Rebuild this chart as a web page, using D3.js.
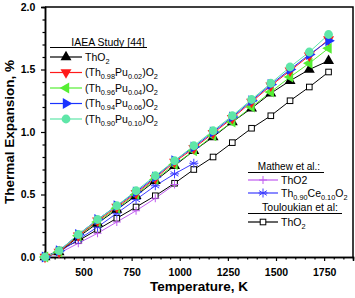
<!DOCTYPE html>
<html>
<head>
<meta charset="utf-8">
<script src="https://cdn.jsdelivr.net/npm/d3@7"></script>
<style>
  body { margin: 0; background: #fff; }
  text { font-family: "Liberation Sans", Arial, sans-serif; }
</style>
</head>
<body>
<div class="container"></div>
<script>
// temperatures (K)
const temps = [300, 373, 473, 573, 673, 773, 873, 973, 1073, 1173, 1273, 1373, 1473, 1573, 1673, 1773];
// IAEA study series
const tho2Iaea = [0, 0.04, 0.16, 0.27, 0.38, 0.49, 0.61, 0.73, 0.85, 0.96, 1.08, 1.19, 1.31, 1.41, 1.50, 1.57];
const pu02 = [0, 0.04, 0.17, 0.29, 0.40, 0.51, 0.63, 0.76, 0.87, 0.99, 1.11, 1.24, 1.37, 1.49, 1.61, 1.74];
const pu04 = [0, 0.04, 0.17, 0.28, 0.39, 0.50, 0.62, 0.74, 0.85, 0.97, 1.08, 1.20, 1.32, 1.44, 1.55, 1.67];
const pu06 = [0, 0.05, 0.18, 0.30, 0.41, 0.52, 0.64, 0.77, 0.88, 1.00, 1.12, 1.25, 1.38, 1.50, 1.62, 1.73];
const pu10 = [0, 0.05, 0.18, 0.30, 0.41, 0.53, 0.65, 0.77, 0.89, 1.01, 1.13, 1.26, 1.39, 1.52, 1.64, 1.78];
// Mathew et al.
const mathewTemps = [300, 373, 473, 573, 673, 773, 873, 973];
const mathewTho2 = [0, 0.03, 0.11, 0.19, 0.28, 0.37, 0.47, 0.58];
const ceTemps = [300, 373, 473, 573, 673, 773, 873, 973, 1073];
const ce10 = [0, 0.04, 0.14, 0.24, 0.35, 0.46, 0.57, 0.665, 0.75];
// Touloukian et al.
const toulTho2 = [0, 0.055, 0.13, 0.22, 0.31, 0.40, 0.49, 0.59, 0.70, 0.80, 0.915, 1.03, 1.13, 1.25, 1.36, 1.48];

const xTicks = [500, 750, 1000, 1250, 1500, 1750];
const yTicks = [0, 0.5, 1.0, 1.5, 2.0];

const W = 355, H = 298;
const margin = {top: 7, right: 2, bottom: 41, left: 45};

const svg = d3.select(".container").append("svg")
  .attr("width", W).attr("height", H);

const x = d3.scaleLinear().domain([300, 1900]).range([margin.left, W - margin.right]);
const y = d3.scaleLinear().domain([0, 2]).range([H - margin.bottom, margin.top]);

// axes
const xAxis = d3.axisBottom(x).tickValues(xTicks).tickFormat(d3.format("d")).tickSize(4);
const xMinor = d3.axisBottom(x).tickValues(d3.range(350, 1900, 50).filter(v => v % 250 !== 0)).tickFormat("").tickSize(2.5);
const yAxis = d3.axisLeft(y).tickValues(yTicks).tickFormat(d3.format(".1f")).tickSize(4);
const yMinor = d3.axisLeft(y).tickValues(d3.range(0.1, 2.0, 0.1).filter(v => Math.abs(v * 2 - Math.round(v * 2)) > 0.01)).tickFormat("").tickSize(2.5);

function styleAxis(g) {
  g.select(".domain").attr("stroke-width", 1.5);
  g.selectAll(".tick line").attr("stroke-width", 1.2);
  g.selectAll("text").attr("font-size", 10.5).attr("font-weight", "bold")
    .attr("font-family", "Liberation Sans, Arial, sans-serif");
}

svg.append("g").attr("transform", `translate(0,${y(0)})`).call(xMinor).call(styleAxis);
svg.append("g").attr("transform", `translate(0,${y(0)})`).call(xAxis).call(styleAxis)
  .selectAll("text").attr("dy", "1.1em");
svg.append("g").attr("transform", `translate(${x(300)},0)`).call(yMinor).call(styleAxis);
svg.append("g").attr("transform", `translate(${x(300)},0)`).call(yAxis).call(styleAxis)
  .selectAll("text").attr("dx", "-0.25em");

// frame top & right
svg.append("path")
  .attr("d", `M${x(300)},${y(2)}H${x(1900)}V${y(0)}`)
  .attr("fill", "none").attr("stroke", "#000").attr("stroke-width", 1.5);

// axis titles
svg.append("text").attr("x", (x(300) + x(1900)) / 2).attr("y", 291)
  .attr("text-anchor", "middle").attr("font-size", 13.5).attr("font-weight", "bold")
  .text("Temperature, K");
svg.append("text").attr("transform", `translate(14,${(y(0) + y(2)) / 2}) rotate(-90)`)
  .attr("text-anchor", "middle").attr("font-size", 13.5).attr("font-weight", "bold")
  .text("Thermal Expansion, %");

// marker helper
function drawMarker(g, kind, color) {
  const triPath = d3.symbol(d3.symbolTriangle, 52)();
  if (kind === "up") g.append("path").attr("d", triPath).attr("fill", color);
  else if (kind === "down") g.append("path").attr("d", triPath).attr("transform", "rotate(180)").attr("fill", color);
  else if (kind === "left") g.append("path").attr("d", triPath).attr("transform", "rotate(-90)").attr("fill", color);
  else if (kind === "right") g.append("path").attr("d", triPath).attr("transform", "rotate(90)").attr("fill", color);
  else if (kind === "circle") g.append("circle").attr("r", 4.4).attr("fill", color);
  else if (kind === "square") g.append("rect").attr("x", -2.8).attr("y", -2.8).attr("width", 5.6).attr("height", 5.6)
    .attr("fill", "#fff").attr("stroke", color).attr("stroke-width", 1);
  else if (kind === "plus") g.append("path").attr("d", "M0,-4V4M-4,0H4").attr("stroke", color).attr("stroke-width", 1);
  else if (kind === "star") g.append("path").attr("d", "M0,-4.5V4.5M-3.9,-2.3L3.9,2.3M-3.9,2.3L3.9,-2.3M-4.5,0H4.5")
    .attr("stroke", color).attr("stroke-width", 1);
}

const series = [
  {t: temps, v: toulTho2, color: "#000", kind: "square"},
  {t: mathewTemps, v: mathewTho2, color: "#c05cf0", kind: "plus"},
  {t: ceTemps, v: ce10, color: "#3d3dff", kind: "star"},
  {t: temps, v: tho2Iaea, color: "#000", kind: "up"},
  {t: temps, v: pu04, color: "#55ee33", kind: "left"},
  {t: temps, v: pu02, color: "#ff1a1a", kind: "down"},
  {t: temps, v: pu06, color: "#1a33ff", kind: "right"},
  {t: temps, v: pu10, color: "#5fe6a8", kind: "circle"}
];

const line = d3.line().x(d => x(d[0])).y(d => y(d[1]));
series.forEach(s => {
  const pts = s.t.map((t, i) => [t, s.v[i]]);
  svg.append("path").datum(pts).attr("d", line)
    .attr("fill", "none").attr("stroke", s.color).attr("stroke-width", 1);
});
series.forEach(s => {
  s.t.forEach((t, i) => {
    const g = svg.append("g").attr("transform", `translate(${x(t)},${y(s.v[i])})`);
    drawMarker(g, s.kind, s.color);
  });
});

// legend helpers
function richText(sel, parts, fs) {
  parts.forEach(p => {
    if (p[1] === "sub") {
      sel.append("tspan").attr("font-size", fs * 0.7).attr("dy", 3).text(p[0]);
    } else {
      sel.append("tspan").attr("font-size", fs).attr("dy", p[2] || 0).text(p[0]);
    }
  });
}
function legendEntry(x0, yc, len, kind, color, parts) {
  svg.append("line").attr("x1", x0).attr("x2", x0 + len).attr("y1", yc).attr("y2", yc)
    .attr("stroke", color).attr("stroke-width", 1.2);
  const g = svg.append("g").attr("transform", `translate(${x0 + len / 2},${yc})`);
  drawMarker(g, kind, color);
  const t = svg.append("text").attr("x", x0 + len + 3).attr("y", yc + 3.5);
  richText(t, parts, 10.5);
}

// IAEA legend
svg.append("text").attr("x", 108).attr("y", 45.5).attr("text-anchor", "middle").attr("font-size", 10.5).text("IAEA Study [44]");
svg.append("line").attr("x1", 50).attr("x2", 147).attr("y1", 47.5).attr("y2", 47.5).attr("stroke", "#000").attr("stroke-width", 1.2);
legendEntry(50, 57, 32, "up", "#000", [["ThO"], ["2", "sub"]]);
legendEntry(50, 72.5, 32, "down", "#ff1a1a", [["(Th"], ["0.98", "sub"], ["Pu", null, -3], ["0.02", "sub"], [")O", null, -3], ["2", "sub"]]);
legendEntry(50, 88, 32, "left", "#55ee33", [["(Th"], ["0.96", "sub"], ["Pu", null, -3], ["0.04", "sub"], [")O", null, -3], ["2", "sub"]]);
legendEntry(50, 103.5, 32, "right", "#1a33ff", [["(Th"], ["0.94", "sub"], ["Pu", null, -3], ["0.06", "sub"], [")O", null, -3], ["2", "sub"]]);
legendEntry(50, 119, 32, "circle", "#5fe6a8", [["(Th"], ["0.90", "sub"], ["Pu", null, -3], ["0.10", "sub"], [")O", null, -3], ["2", "sub"]]);

// Mathew / Touloukian legend
svg.append("text").attr("x", 289).attr("y", 169.5).attr("text-anchor", "middle").attr("font-size", 10).text("Mathew et al.:");
svg.append("line").attr("x1", 248).attr("x2", 324).attr("y1", 172.5).attr("y2", 172.5).attr("stroke", "#000").attr("stroke-width", 1.2);
legendEntry(248, 180, 30, "plus", "#c05cf0", [["ThO2"]]);
legendEntry(248, 193, 30, "star", "#3d3dff", [["Th"], ["0.90", "sub"], ["Ce", null, -3], ["0.10", "sub"], ["O", null, -3], ["2", "sub"]]);
svg.append("text").attr("x", 300).attr("y", 211).attr("text-anchor", "middle").attr("font-size", 10.5).text("Touloukian et al:");
svg.append("line").attr("x1", 248).attr("x2", 342).attr("y1", 213.5).attr("y2", 213.5).attr("stroke", "#000").attr("stroke-width", 1.2);
legendEntry(248, 222, 30, "square", "#000", [["ThO"], ["2", "sub"]]);
</script>
</body>
</html>
